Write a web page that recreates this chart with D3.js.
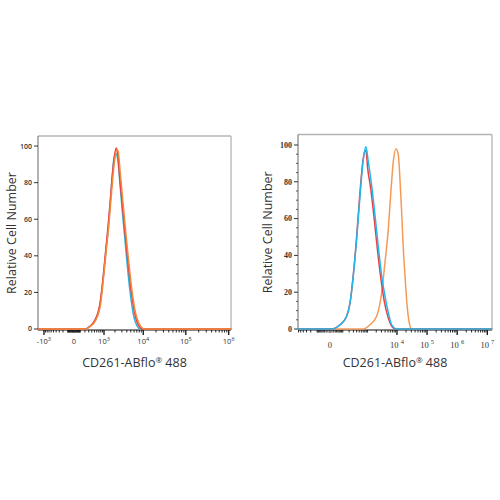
<!DOCTYPE html>
<html>
<head>
<meta charset="utf-8">
<script src="https://cdn.jsdelivr.net/npm/d3@7"></script>
<style>
  body { margin: 0; background: #fff; }
  svg { display: block; }
</style>
</head>
<body>
<svg id="chart" width="500" height="500"></svg>
<script>
// histogram traces: [fluorescence, relative count]
const leftBlue = [[-1450,0],[200,0],[340,1.5],[520,4.5],[760,13],[950,28],[1140,43],[1320,55],[1510,70],[1700,84],[1900,94],[2080,96],[2250,95],[2450,90],[2700,79],[3100,64],[3550,50],[4100,35],[4700,22],[5400,12],[6200,5],[7200,1.5],[8300,0],[1.15e6,0]];
const leftRed = [[-1450,0],[200,0],[340,1.5],[500,4.5],[740,13],[940,28],[1120,43],[1300,56],[1500,70],[1690,83],[1930,94],[2150,99],[2350,96],[2650,83],[3080,68],[3560,54],[4120,40],[4750,27],[5480,16],[6300,8],[7300,3],[8400,0.8],[9500,0],[1.15e6,0]];
const leftOrange = [[-1450,0],[220,0],[360,1.5],[540,4.5],[780,13],[970,28],[1160,43],[1340,55],[1540,69],[1740,82],[1980,93],[2250,98],[2420,97],[2720,86],[3180,70],[3680,55],[4250,41],[4900,28],[5650,17],[6500,9],[7600,4],[8800,1.3],[10500,0],[1.15e6,0]];

const rightBlue = [[-650,0],[8,0],[69,2.3],[155,6.9],[217,14],[296,29],[401,49],[534,72],[704,92],[878,99],[1059,91],[1391,78],[1806,62],[2340,45],[3054,29],[3943,18],[5100,9],[6600,2.4],[9700,0],[1.45e7,0]];
const rightRed = [[-650,0],[8,0],[69,2.3],[155,6.9],[217,14],[296,29],[395,49],[520,72],[680,91],[830,97],[900,96],[1000,88],[1300,76],[1700,60],[2200,43],[2900,27],[3750,15],[4900,7],[6400,2],[9000,0],[1.45e7,0]];
const rightOrange = [[-650,0],[704,0],[1214,2.3],[2065,6.9],[3054,19.7],[3943,36],[5100,54],[6120,72.5],[7500,90.7],[9240,98],[11000,95],[12540,81.6],[14300,63.4],[16100,45],[18800,27],[21800,12.4],[25700,3.3],[30700,0],[1.45e7,0]];

const yTicks = [0, 20, 40, 60, 80, 100];
const leftXTicks = [-1e3, 0, 1e3, 1e4, 1e5, 1e6];
const rightXTicks = [0, 1e4, 1e5, 1e6, 1e7];

const svg = d3.select('#chart');

function minorTicks(lo, hi) {
  const out = [];
  for (let k = 1; k <= 7; k++) {
    for (let m = 1; m <= 9; m++) {
      const v = m * Math.pow(10, k);
      if (v <= hi) out.push(v);
      if (-v >= lo) out.push(-v);
    }
  }
  return out;
}

// superscript tspan; shift given in px
function sup(textSel, txt, size, shift) {
  textSel.append('tspan').attr('dy', -shift).attr('font-size', size).text(txt);
}

function drawPanel(p) {
  const x = d3.scaleSymlog().constant(p.c).domain(p.xDomain).range([p.left, p.right]);
  const y = d3.scaleLinear().domain([0, p.yMax]).range([p.zeroY, p.top]);
  const g = svg.append('g');

  // frame
  g.append('line').attr('x1', p.left).attr('x2', p.right).attr('y1', p.top).attr('y2', p.top)
    .attr('stroke', '#b4b4b4').attr('stroke-width', 1.3);
  g.append('line').attr('x1', p.right).attr('x2', p.right).attr('y1', p.top).attr('y2', p.bottom)
    .attr('stroke', '#b4b4b4').attr('stroke-width', 1.3);
  g.append('line').attr('x1', p.left).attr('x2', p.left).attr('y1', p.top).attr('y2', p.bottom)
    .attr('stroke', '#666').attr('stroke-width', 1);

  // y ticks
  if (p.yMinor) {
    d3.range(5, 105, 5).filter(v => v % 20 !== 0).forEach(v => {
      g.append('line').attr('x1', p.left - 2).attr('x2', p.left).attr('y1', y(v)).attr('y2', y(v))
        .attr('stroke', '#333').attr('stroke-width', 0.8);
    });
  }
  yTicks.forEach(v => {
    g.append('line').attr('x1', p.left - 4).attr('x2', p.left).attr('y1', y(v)).attr('y2', y(v))
      .attr('stroke', '#333').attr('stroke-width', 1);
    g.append('text').attr('x', p.left - 6).attr('y', y(v)).attr('dy', '0.35em')
      .attr('text-anchor', 'end').attr('font-family', p.tickFont).attr('font-size', p.tickSize)
      .attr('font-weight', p.tickWeight).attr('fill', '#333').text(v);
  });

  // x axis
  g.append('line').attr('x1', p.left).attr('x2', p.right).attr('y1', p.bottom).attr('y2', p.bottom)
    .attr('stroke', '#111').attr('stroke-width', 1.2);
  minorTicks(p.xDomain[0], p.xDomain[1]).forEach(v => {
    const major = p.xTicks.includes(v);
    g.append('line').attr('x1', x(v)).attr('x2', x(v)).attr('y1', p.bottom).attr('y2', p.bottom + (major ? 5 : 2.5))
      .attr('stroke', '#111').attr('stroke-width', major ? 1.3 : 0.9);
  });
  g.append('line').attr('x1', x(0)).attr('x2', x(0)).attr('y1', p.bottom).attr('y2', p.bottom + 3)
    .attr('stroke', '#111').attr('stroke-width', 1);
  p.xTicks.forEach(v => {
    const t = g.append('text').attr('x', x(v)).attr('y', p.bottom + p.labelDy)
      .attr('text-anchor', 'middle').attr('font-family', p.tickFont).attr('font-size', p.xTickSize)
      .attr('fill', '#333');
    if (v === 0) { t.text('0'); return; }
    const e = Math.round(Math.log10(Math.abs(v)));
    t.text((v < 0 ? '-' : '') + '10' + p.gap);
    sup(t, e, p.xTickSize * 0.75, p.xTickSize * 0.45);
  });

  // curves
  const line = d3.line().x(d => x(d[0])).y(d => y(d[1])).curve(d3.curveMonotoneX);
  p.series.forEach(s => {
    g.append('path').datum(s.data).attr('d', line).attr('fill', 'none')
      .attr('stroke', s.color).attr('stroke-width', 1.5).attr('stroke-linejoin', 'round');
  });

  // titles
  const xt = g.append('text').attr('x', (p.left + p.right) / 2).attr('y', 367)
    .attr('text-anchor', 'middle').attr('font-family', 'Open Sans, sans-serif').attr('font-size', 12.5)
    .attr('fill', '#333').text('CD261-ABflo');
  sup(xt, '®', 8, 4);
  xt.append('tspan').attr('dy', 4).text(' 488');
  g.append('text').attr('transform', `translate(${p.yTitleX},${(p.top + p.bottom) / 2}) rotate(-90)`)
    .attr('text-anchor', 'middle').attr('font-family', 'Open Sans, sans-serif').attr('font-size', 12.5)
    .attr('fill', '#333').text('Relative Cell Number');
}

drawPanel({
  left: 38, right: 231, top: 136, bottom: 330, zeroY: 329, yMax: 105.5,
  c: 250, xDomain: [-1470, 1.13e6], xTicks: leftXTicks,
  tickFont: 'Open Sans, sans-serif', tickSize: 7, xTickSize: 7.5, tickWeight: 600, labelDy: 14, gap: '',
  yMinor: false, yTitleX: 16,
  series: [
    { data: leftBlue, color: '#2ab4e4' },
    { data: leftRed, color: '#ef3b3b' },
    { data: leftOrange, color: '#f5893a' }
  ]
});

drawPanel({
  left: 298, right: 492, top: 134.5, bottom: 330, zeroY: 329, yMax: 105.7,
  c: 60, xDomain: [-630, 1.43e7], xTicks: rightXTicks,
  tickFont: 'Liberation Serif, serif', tickSize: 8, xTickSize: 8.5, tickWeight: 700, labelDy: 18, gap: ' ',
  yMinor: true, yTitleX: 272,
  series: [
    { data: rightOrange, color: '#f59a55' },
    { data: rightRed, color: '#ee3d45' },
    { data: rightBlue, color: '#1fb8ec' }
  ]
});
</script>
</body>
</html>
